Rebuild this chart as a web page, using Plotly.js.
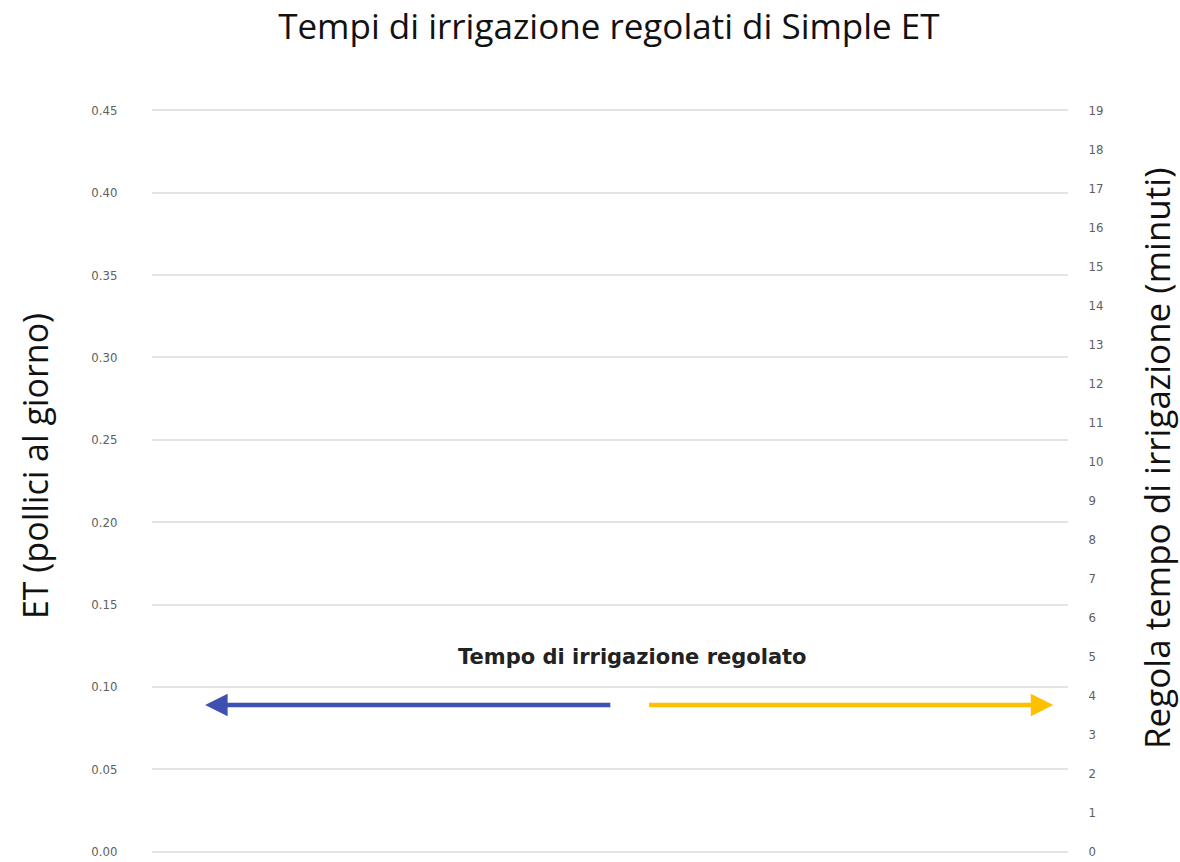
<!DOCTYPE html>
<html><head><meta charset="utf-8">
<script src="https://cdn.plot.ly/plotly-3.0.1.min.js"></script>
<style>html,body{margin:0;padding:0;background:#fff}#c{width:1180px;height:862px}</style>
</head><body><div id="c"></div>
<script>
const titleText = "Tempi di irrigazione regolati di Simple ET";
const leftTitle = "ET (pollici al giorno)";
const rightTitle = "Regola tempo di irrigazione (minuti)";
const leftTicks = [0, 0.05, 0.10, 0.15, 0.20, 0.25, 0.30, 0.35, 0.40, 0.45];
const leftTickLabels = ["0.00","0.05","0.10","0.15","0.20","0.25","0.30","0.35","0.40","0.45"];
const rightTicks = [0,1,2,3,4,5,6,7,8,9,10,11,12,13,14,15,16,17,18,19];
const leftMax = 0.45, rightMax = 19;
const arrowLabel = "Tempo di irrigazione regolato";
const arrowLabelPos = [0.525, 0.118];
// arrows: [tailX, headX, yValue]
const blueArrow = [0.502, 0.058, 0.089];
const yellowArrow = [0.541, 0.984, 0.089];

const pad = 0.0015;
const leftRange = [-pad, leftMax + pad];
const rightRange = leftRange.map(v => v * rightMax / leftMax);

const tickFont = {family: "Liberation Sans Narrow, DejaVu Sans Condensed, sans-serif", size: 13, color: "#606060"};

const data = [
  {x:[0,1], y:[null,null], type:"scatter", mode:"lines", yaxis:"y", showlegend:false, hoverinfo:"skip"},
  {x:[0,1], y:[null,null], type:"scatter", mode:"lines", yaxis:"y2", showlegend:false, hoverinfo:"skip"}
];

const layout = {
  width:1180, height:862,
  margin:{l:152, r:112, t:108, b:8},
  paper_bgcolor:"#fff", plot_bgcolor:"#fff",
  title:{text:titleText, x:0.516, xanchor:"center", y:0.969, yanchor:"middle", font:{family:"Open Sans, sans-serif", size:35, color:"#111"}},
  showlegend:false,
  xaxis:{range:[0,1], visible:false, fixedrange:true},
  yaxis:{range:leftRange, tickvals:leftTicks, ticktext:leftTickLabels, showgrid:true, gridcolor:"#e3e3e3", gridwidth:2,
    zeroline:false, showline:false, ticks:"outside", ticklen:31, tickcolor:"rgba(0,0,0,0)", tickfont:tickFont},
  yaxis2:{range:rightRange, overlaying:"y", side:"right", tickvals:rightTicks, showgrid:false, zeroline:false, showline:false,
    ticks:"outside", ticklen:17, tickcolor:"rgba(0,0,0,0)", tickfont:tickFont},
  annotations:[
    {xref:"paper", yref:"paper", x:-0.1277, y:0.52, text:leftTitle, textangle:-90, showarrow:false,
     xanchor:"center", yanchor:"middle", font:{family:"Open Sans, sans-serif", size:34, color:"#111"}},
    {xref:"paper", yref:"paper", x:1.0965, y:0.53, text:rightTitle, textangle:-90, showarrow:false,
     xanchor:"center", yanchor:"middle", font:{family:"Open Sans, sans-serif", size:35, color:"#111"}},
    {xref:"x", yref:"y", x:arrowLabelPos[0], y:arrowLabelPos[1], text:"<b>"+arrowLabel+"</b>", showarrow:false,
     font:{family:"DejaVu Sans, sans-serif", size:21, color:"#222"}},
    {xref:"x", yref:"y", axref:"x", ayref:"y", x:blueArrow[1], y:blueArrow[2], ax:blueArrow[0], ay:blueArrow[2],
     showarrow:true, arrowhead:2, arrowsize:1, arrowwidth:4.5, arrowcolor:"#3F51B0", text:""},
    {xref:"x", yref:"y", axref:"x", ayref:"y", x:yellowArrow[1], y:yellowArrow[2], ax:yellowArrow[0], ay:yellowArrow[2],
     showarrow:true, arrowhead:2, arrowsize:1, arrowwidth:4.5, arrowcolor:"#FFC000", text:""}
  ]
};
Plotly.newPlot("c", data, layout, {displayModeBar:false, staticPlot:true});
</script></body></html>
